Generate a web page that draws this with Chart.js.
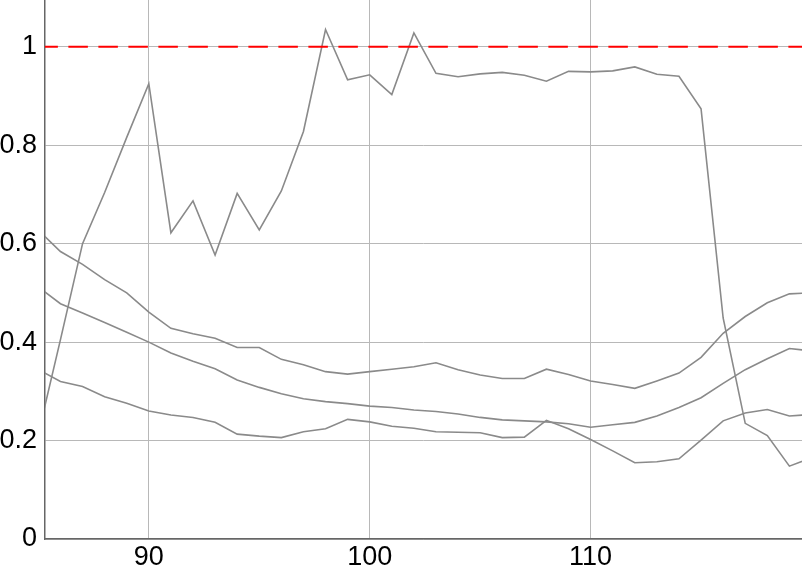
<!DOCTYPE html>
<html>
<head>
<meta charset="utf-8">
<script src="https://cdn.jsdelivr.net/npm/chart.js@4.4.1/dist/chart.umd.min.js"></script>
<style>
  html, body { margin: 0; padding: 0; background: #fff; }
  #wrap { width: 802px; height: 571px; position: relative; }
</style>
</head>
<body>
<div id="wrap"><canvas id="chart"></canvas></div>
<script>
// x positions (integer steps), clipped by the axis range
const xs = [85, 86, 87, 88, 89, 90, 91, 92, 93, 94, 95, 96, 97, 98, 99, 100, 101, 102,
    103, 104, 105, 106, 107, 108, 109, 110, 111, 112, 113, 114, 115, 116, 117, 118, 119, 120];

const seriesA = [0.214, 0.405, 0.600, 0.704, 0.816, 0.925, 0.622, 0.687, 0.577, 0.702, 0.628, 0.707,
    0.828, 1.035, 0.933, 0.943, 0.903, 1.028, 0.946, 0.939, 0.945, 0.948, 0.942, 0.930,
    0.950, 0.949, 0.951, 0.959, 0.944, 0.940, 0.874, 0.449, 0.235, 0.210, 0.148, 0.165];
const seriesB = [0.627, 0.584, 0.558, 0.527, 0.500, 0.461, 0.428, 0.417, 0.408, 0.389, 0.389, 0.365,
    0.354, 0.340, 0.335, 0.340, 0.345, 0.350, 0.358, 0.344, 0.333, 0.326, 0.326, 0.345,
    0.334, 0.321, 0.314, 0.306, 0.321, 0.337, 0.369, 0.418, 0.452, 0.480, 0.498, 0.500];
const seriesC = [0.512, 0.478, 0.459, 0.440, 0.420, 0.400, 0.378, 0.361, 0.346, 0.323, 0.308, 0.295,
    0.285, 0.279, 0.275, 0.270, 0.267, 0.262, 0.259, 0.254, 0.247, 0.242, 0.240, 0.238,
    0.234, 0.227, 0.232, 0.237, 0.250, 0.267, 0.287, 0.316, 0.344, 0.366, 0.387, 0.382];
const seriesD = [0.344, 0.320, 0.310, 0.289, 0.276, 0.260, 0.252, 0.247, 0.237, 0.213, 0.209, 0.206,
    0.218, 0.224, 0.243, 0.238, 0.229, 0.225, 0.218, 0.217, 0.216, 0.206, 0.207, 0.241,
    0.224, 0.202, 0.179, 0.155, 0.157, 0.163, 0.201, 0.240, 0.256, 0.263, 0.250, 0.253];

// reference level (red dashed)
const refX = [85, 120];
const refY = [1, 1];

const xTicks = [90, 100, 110];
const yTicks = [0, 0.2, 0.4, 0.6, 0.8, 1];

const pts = (xv, yv) => xv.map((x, i) => ({ x, y: yv[i] }));

const lineGray = '#8a8a8a';
const tickFont = { size: 27, family: 'Liberation Sans, Arial, sans-serif' };

const grayLine = (data) => ({
    data: pts(xs, data),
    borderColor: lineGray,
    borderWidth: 1.6,
    pointRadius: 0,
    tension: 0,
    fill: false,
});

new Chart(document.getElementById('chart'), {
    type: 'line',
    data: {
        datasets: [
            {
                data: pts(refX, refY),
                borderColor: '#ff0000',
                borderWidth: 2,
                borderDash: [19.5, 10.5],
                pointRadius: 0,
                fill: false,
            },
            grayLine(seriesA),
            grayLine(seriesB),
            grayLine(seriesC),
            grayLine(seriesD),
        ],
    },
    options: {
        responsive: true,
        maintainAspectRatio: false,
        animation: false,
        layout: { padding: 0 },
        plugins: {
            legend: { display: false },
            tooltip: { enabled: false },
        },
        scales: {
            x: {
                type: 'linear',
                min: 85.3,
                max: 119.57,
                afterBuildTicks: (s) => { s.ticks = xTicks.map((v) => ({ value: v })); },
                afterFit: (s) => {
                    s.height = 32;
                    s.paddingLeft = 0;
                    s.paddingRight = 0;
                },
                grid: { color: '#b8b8b8', lineWidth: 1, drawTicks: false },
                border: { color: '#666', width: 1.5 },
                ticks: {
                    color: '#000',
                    font: tickFont,
                    padding: 2,
                    maxRotation: 0,
                    autoSkip: false,
                    callback: (v) => String(v),
                },
            },
            y: {
                type: 'linear',
                min: 0,
                max: 1.095,
                afterBuildTicks: (s) => { s.ticks = yTicks.map((v) => ({ value: v })); },
                afterFit: (s) => {
                    s.width = 45;
                    s.paddingTop = 0;
                    s.paddingBottom = 0;
                },
                grid: { color: '#b8b8b8', lineWidth: 1, drawTicks: false },
                border: { color: '#666', width: 1.5 },
                ticks: {
                    color: '#000',
                    font: tickFont,
                    padding: 8,
                    autoSkip: false,
                    callback: (v) => String(v),
                },
            },
        },
    },
});
</script>
</body>
</html>
